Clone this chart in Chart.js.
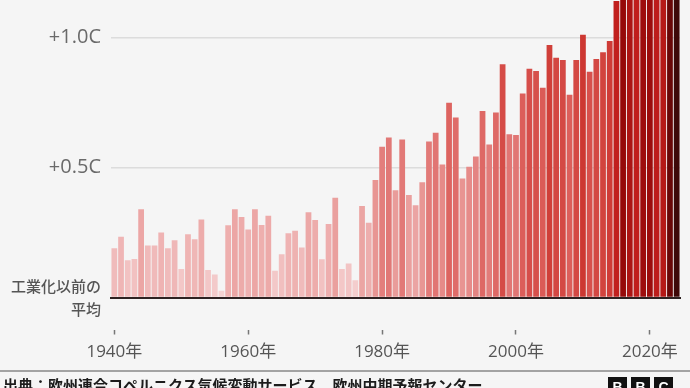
<!DOCTYPE html>
<html lang="ja">
<head>
<meta charset="utf-8">
<script src="https://cdn.jsdelivr.net/npm/chart.js@4.4.1/dist/chart.umd.min.js"></script>
<style>
  html, body { margin: 0; padding: 0; background: #f5f5f5; }
  body { width: 690px; height: 388px; overflow: hidden; position: relative; }
  #caja { position: absolute; left: 0; top: 0; width: 690px; height: 371px; }
  #linea { position: absolute; left: 0; top: 370px; width: 690px; border-top: 2px solid #a3a3a3; }
  #fuente { position: absolute; left: 3px; top: 377px; font: bold 15px/16px "Noto Sans CJK JP", sans-serif; color: #1c1c1c; white-space: nowrap; }
  #logo { position: absolute; left: 608px; top: 377px; display: flex; gap: 4px; }
  #logo span { width: 19px; height: 20px; background: #111; color: #fff; font: bold 14px/20px "Liberation Sans", sans-serif; text-align: center; }
</style>
</head>
<body>
<div id="caja"><canvas id="grafico"></canvas></div>
<div id="linea"></div>
<div id="fuente">出典：欧州連合コペルニクス気候変動サービス、欧州中期予報センター</div>
<div id="logo"><span>B</span><span>B</span><span>C</span></div>
<script>
// años 1940-2024
const anios = [
  1940, 1941, 1942, 1943, 1944, 1945, 1946, 1947, 1948, 1949,
  1950, 1951, 1952, 1953, 1954, 1955, 1956, 1957, 1958, 1959,
  1960, 1961, 1962, 1963, 1964, 1965, 1966, 1967, 1968, 1969,
  1970, 1971, 1972, 1973, 1974, 1975, 1976, 1977, 1978, 1979,
  1980, 1981, 1982, 1983, 1984, 1985, 1986, 1987, 1988, 1989,
  1990, 1991, 1992, 1993, 1994, 1995, 1996, 1997, 1998, 1999,
  2000, 2001, 2002, 2003, 2004, 2005, 2006, 2007, 2008, 2009,
  2010, 2011, 2012, 2013, 2014, 2015, 2016, 2017, 2018, 2019,
  2020, 2021, 2022, 2023, 2024
];
// anomalía respecto al promedio preindustrial (°C)
const anomalias = [
  0.19, 0.234, 0.144, 0.148, 0.34, 0.20, 0.20, 0.25, 0.19, 0.22,
  0.11, 0.244, 0.224, 0.30, 0.106, 0.089, 0.026, 0.278, 0.34, 0.31,
  0.262, 0.34, 0.279, 0.315, 0.103, 0.167, 0.247, 0.257, 0.193, 0.328,
  0.298, 0.147, 0.283, 0.384, 0.11, 0.131, 0.067, 0.352, 0.288, 0.452,
  0.58, 0.615, 0.413, 0.608, 0.394, 0.355, 0.443, 0.60, 0.634, 0.512,
  0.749, 0.692, 0.458, 0.503, 0.542, 0.717, 0.589, 0.712, 0.897, 0.628,
  0.625, 0.785, 0.88, 0.871, 0.807, 0.971, 0.922, 0.913, 0.78, 0.913,
  1.01, 0.868, 0.917, 0.943, 0.986, 1.14, 1.30, 1.22, 1.15, 1.27,
  1.28, 1.16, 1.19, 1.48, 1.60
];
const marcasY = [0, 0.5, 1.0];
const etiquetasY = { 0: ['工業化以前の', '平均'], 0.5: '+0.5C', 1: '+1.0C' };
const escalaMax = 1.144;

// escala de color: de rosa claro a granate
const paradas = [
  [0.0, [246, 214, 214]],
  [0.2, [240, 186, 186]],
  [0.4, [234, 158, 156]],
  [0.6, [226, 122, 120]],
  [0.8, [219, 92, 88]],
  [1.0, [206, 58, 52]],
  [1.15, [192, 30, 28]],
  [1.3, [150, 10, 10]],
  [1.5, [100, 6, 6]],
  [1.6, [62, 8, 8]]
];
function colorPara(v){
  for (let i = 1; i < paradas.length; i++) {
    if (v <= paradas[i][0]) {
      const a = paradas[i - 1], b = paradas[i];
      const t = (v - a[0]) / (b[0] - a[0]);
      const c = a[1].map((x, k) => Math.round(x + (b[1][k] - x) * t));
      return `rgb(${c[0]}, ${c[1]}, ${c[2]})`;
    }
  }
  const u = paradas[paradas.length - 1][1];
  return `rgb(${u[0]}, ${u[1]}, ${u[2]})`;
}

const fuenteLatina = "'Open Sans', 'Noto Sans CJK JP', sans-serif";

new Chart(document.getElementById('grafico'), {
  type: 'bar',
  data: {
    labels: anios.map(String),
    datasets: [{
      data: anomalias,
      backgroundColor: anomalias.map(colorPara),
      borderWidth: 0,
      barPercentage: 0.86,
      categoryPercentage: 1
    }]
  },
  options: {
    responsive: true,
    maintainAspectRatio: false,
    animation: false,
    layout: { padding: { top: 0, right: 10, bottom: 2, left: 0 } },
    plugins: { legend: { display: false }, tooltip: { enabled: false } },
    scales: {
      x: {
        grid: {
          offset: false,
          drawOnChartArea: false,
          tickLength: 37,
          tickWidth: 1.5,
          tickColor: '#777',
          tickBorderDash: [0, 31, 6, 200]
        },
        border: { display: true, color: '#2e2222', width: 2 },
        ticks: {
          autoSkip: false,
          maxRotation: 0,
          padding: 7,
          color: '#555',
          font: { family: fuenteLatina, size: 17 },
          callback: function(valor, indice){
            const anio = anios[indice];
            return anio % 20 === 0 ? anio + '年' : undefined;
          }
        }
      },
      y: {
        min: 0,
        max: escalaMax,
        afterBuildTicks: function(escala){
          escala.ticks = marcasY.map(v => ({ value: v }));
        },
        afterFit: function(escala){
          escala.width = 111;
          escala.paddingTop = 0;
        },
        border: { display: false },
        grid: {
          drawTicks: false,
          lineWidth: 1.5,
          color: function(ctx){
            return ctx.tick && ctx.tick.value === 0 ? 'rgba(0,0,0,0)' : '#dcdcdc';
          }
        },
        ticks: {
          padding: 10,
          color: function(ctx){
            return ctx.tick && ctx.tick.value === 0 ? '#555' : '#6a6a6a';
          },
          font: function(ctx){
            if (ctx.tick && ctx.tick.value === 0) {
              return { family: "'Noto Sans CJK JP', sans-serif", size: 15, weight: '500', lineHeight: 1.55 };
            }
            return { family: fuenteLatina, size: 20 };
          },
          callback: function(valor){
            return etiquetasY[valor];
          }
        }
      }
    }
  }
});
</script>
</body>
</html>
